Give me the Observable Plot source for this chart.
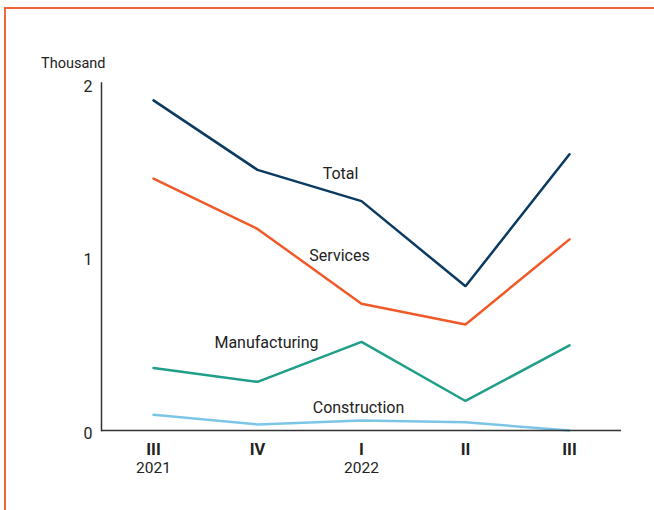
<!DOCTYPE html>
<html>
<head>
<meta charset="utf-8">
<script src="https://cdn.jsdelivr.net/npm/d3@7"></script>
<script src="https://cdn.jsdelivr.net/npm/@observablehq/plot@0.6"></script>
<style>
  html, body { margin: 0; padding: 0; background: #fff; }
  #wrap { position: relative; width: 654px; height: 510px; overflow: hidden; }
  #border { position: absolute; left: 4px; top: 7px; right: -10px; bottom: -10px;
            border-top: 2.5px solid #f1643a; border-left: 2.5px solid #f1643a; }
  #chart { position: absolute; left: 0; top: 0; }
  svg text { font-family: Roboto, "Noto Sans", sans-serif; }
</style>
</head>
<body>
<div id="wrap"><div id="border"></div><div id="chart"></div></div>
<script>
const quarters = ["2021 III", "2021 IV", "2022 I", "2022 II", "2022 III"];
const quarterLabels = ["III", "IV", "I", "II", "III"];
const yearLabels = ["2021", "", "2022", "", ""];
const seriesNames = ["Total", "Services", "Manufacturing", "Construction"];
const total = [1.90, 1.50, 1.32, 0.83, 1.59];
const services = [1.45, 1.16, 0.73, 0.61, 1.10];
const manufacturing = [0.36, 0.28, 0.51, 0.17, 0.49];
const construction = [0.09, 0.035, 0.057, 0.047, 0.0];
const yTicks = [0, 1, 2];
const unitLabel = "Thousand";

const seriesValues = [total, services, manufacturing, construction];
const colors = ["#0b3a60", "#f05a28", "#1f9e88", "#7cc5e8"];
const rows = [];
seriesNames.forEach((s, i) => quarters.forEach((q, j) => rows.push({series: s, quarter: q, value: seriesValues[i][j]})));

const labelAt = (i) => [{series: seriesNames[i], quarter: quarters[2], value: seriesValues[i][2]}];
const labelOffsets = [[-21, -27], [-22, -48], [-95, 1], [-3, -13]];

const plot = Plot.plot({
  width: 654,
  height: 510,
  marginLeft: 101,
  marginRight: 33,
  marginTop: 82.5,
  marginBottom: 80,
  style: {fontSize: "15px", fontFamily: "Roboto, sans-serif", color: "#222", background: "transparent"},
  x: {type: "point", domain: quarters, padding: 0.5},
  y: {domain: [0, 2]},
  color: {domain: seriesNames, range: colors},
  marks: [
    Plot.line(rows, {x: "quarter", y: "value", z: "series", stroke: "series", strokeWidth: 2.5, strokeLinejoin: "miter"}),
    Plot.frame({anchor: "left", stroke: "#333", strokeWidth: 1.5}),
    Plot.ruleY([0], {stroke: "#333", strokeWidth: 1.5}),
    Plot.axisY({ticks: yTicks, tickSize: 0, tickPadding: 9, dy: 3.5, label: null, fontSize: 16, tickFormat: d3.format("d")}),
    Plot.axisX({tickSize: 0, tickPadding: 13, tickFormat: (d) => quarterLabels[quarters.indexOf(d)], fontWeight: "bold", fontSize: 16.5, label: null}),
    Plot.text(quarters, {x: d => d, frameAnchor: "bottom", text: (d, i) => yearLabels[i], dy: 42, fontSize: 15.5, fill: "#222"}),
    Plot.text([unitLabel], {frameAnchor: "top-left", text: d => d, textAnchor: "end", dx: 4, dy: -25, fontSize: 14.5, fill: "#222"}),
    ...seriesNames.map((s, i) => Plot.text(labelAt(i), {x: "quarter", y: "value", text: "series", dx: labelOffsets[i][0], dy: labelOffsets[i][1], fontSize: 16, fill: "#222"}))
  ]
});
document.getElementById("chart").appendChild(plot);
</script>
</body>
</html>
